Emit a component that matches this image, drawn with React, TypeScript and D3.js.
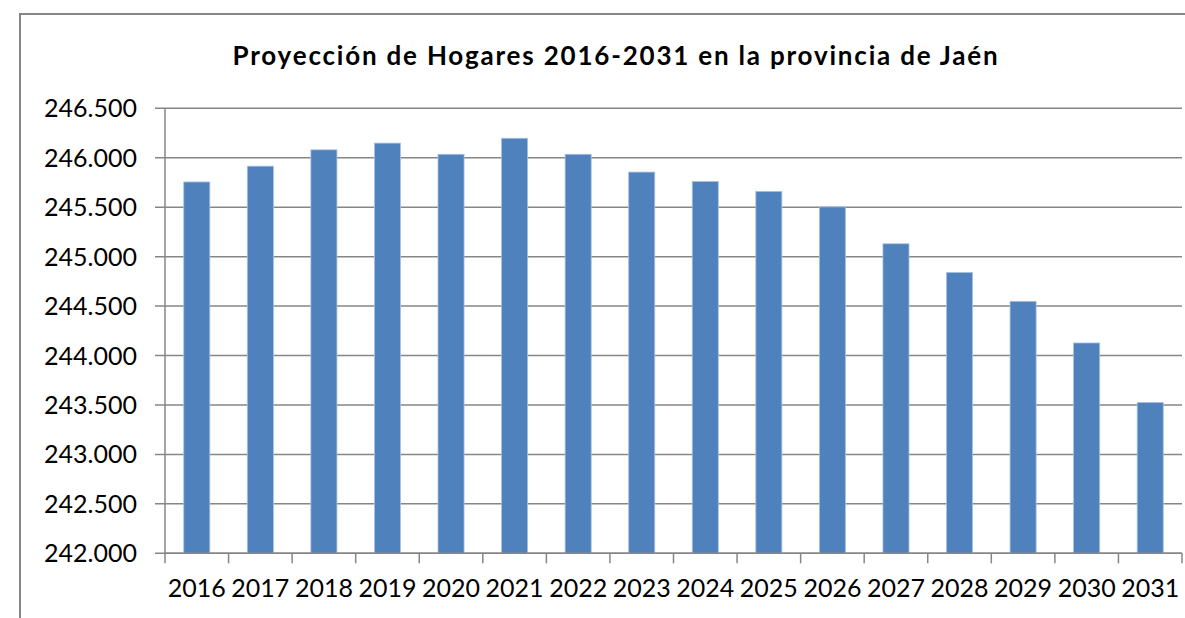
import React from "react";
import * as d3 from "d3";

const title = "Proyección de Hogares 2016-2031 en la provincia de Jaén";
const years = ["2016","2017","2018","2019","2020","2021","2022","2023","2024","2025","2026","2027","2028","2029","2030","2031"];
const households = [245755, 245915, 246080, 246148, 246035, 246197, 246035, 245855, 245760, 245660, 245503, 245130, 244840, 244548, 244127, 243525];
const yTicks = [242000, 242500, 243000, 243500, 244000, 244500, 245000, 245500, 246000, 246500];

const W = 1185, H = 618;
const left = 165, right = 1182, top = 108.3, bottom = 553.3;
const FONT = "Lato, 'Open Sans', sans-serif";

export default function App() {
  const x = d3.scaleBand<string>().domain(years).range([left, right]).paddingInner(0.59).paddingOuter(0.295);
  const band = d3.scaleBand<string>().domain(years).range([left, right]);
  const y = d3.scaleLinear().domain([242000, 246500]).range([bottom, top]);
  const label = (v: number) => (v / 1000).toFixed(3);
  const boundaries = years.map((yr) => band(yr) as number).concat([right]);
  return (
    <svg width={W} height={H} style={{ position: "absolute", left: 0, top: 0, background: "#fff" }}>
      <rect x={20} y={14} width={W + 20} height={H + 20} fill="#fff" stroke="#868686" strokeWidth={2} />
      <text x={616} y={65} textAnchor="middle" fontFamily={FONT} fontWeight={700} fontSize={26} letterSpacing={1.8} fill="#000">{title}</text>
      {yTicks.map((t) => (
        <g key={t}>
          <line x1={155} x2={right} y1={y(t)} y2={y(t)} stroke="#868686" strokeWidth={1.5} />
          <text x={137} y={y(t)} dy="0.36em" textAnchor="end" fontFamily={FONT} fontSize={25} fill="#000">{label(t)}</text>
        </g>
      ))}
      {households.map((v, i) => (
        <rect key={years[i]} x={x(years[i])} y={y(v)} width={x.bandwidth()} height={bottom - y(v)} fill="#4F81BD" stroke="#A9C1DF" strokeWidth={0.8} />
      ))}
      <line x1={left} x2={left} y1={top} y2={bottom} stroke="#868686" strokeWidth={1.5} />
      <line x1={left} x2={right} y1={bottom} y2={bottom} stroke="#868686" strokeWidth={1.5} />
      {boundaries.map((b, i) => (
        <line key={i} x1={b} x2={b} y1={bottom} y2={bottom + 10} stroke="#868686" strokeWidth={1.5} />
      ))}
      {years.map((yr) => (
        <text key={yr} x={(band(yr) as number) + band.bandwidth() / 2} y={597} textAnchor="middle" fontFamily={FONT} fontSize={25} fill="#000">{yr}</text>
      ))}
    </svg>
  );
}
